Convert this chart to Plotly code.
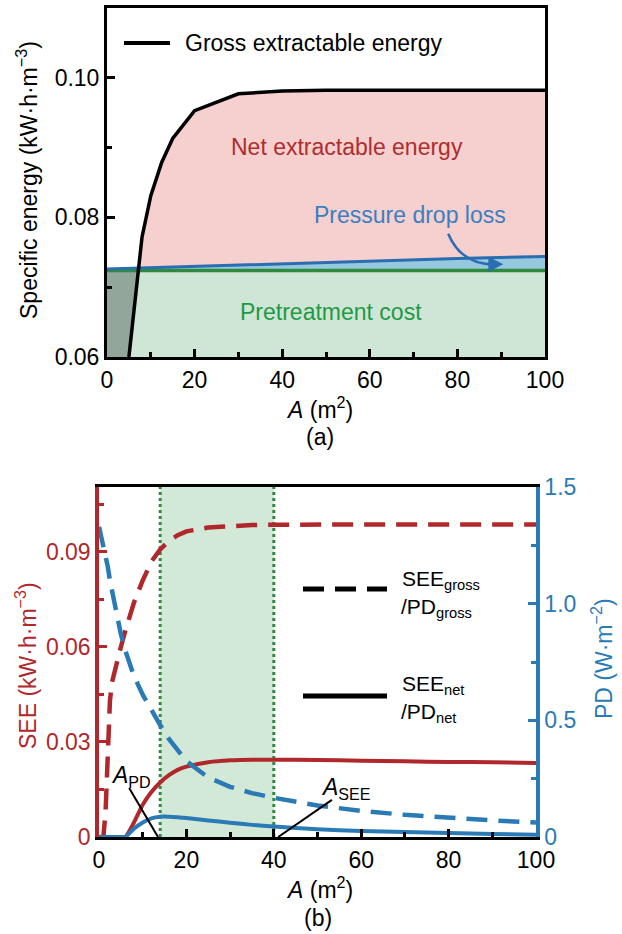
import numpy as np
import plotly.graph_objects as go

# ---------------- Panel (a) data ----------------
A_gross = [5, 6, 7, 8, 10, 12.5, 15, 20, 30, 40, 50, 60, 70, 80, 90, 100]
E_gross = [0.0600, 0.0660, 0.0718, 0.0772, 0.0831, 0.0879, 0.0913, 0.0953,
           0.0977, 0.0981, 0.0982, 0.0982, 0.0982, 0.0982, 0.0982, 0.0982]
A_pretreat = [0, 100]
E_pretreat = [0.0724, 0.0724]
A_pdl = [0, 20, 40, 60, 80, 100]
E_pdl = [0.0726, 0.0730, 0.0733, 0.0737, 0.0741, 0.0744]

a_yticks = [0.06, 0.08, 0.10]
a_yticktext = ["0.06", "0.08", "0.10"]
a_yminor = [0.07, 0.09]
x_ticks = [0, 20, 40, 60, 80, 100]
x_minor = [10, 30, 50, 70, 90]

# ---------------- Panel (b) data ----------------
A_b = [0, 1, 1.5, 2, 2.5, 3, 4, 5, 6, 8, 10, 12, 14, 16, 18, 20, 25, 30, 35, 40,
       50, 60, 70, 80, 90, 100]
SEE_gross = [0.0, 0.0, 0.008, 0.027, 0.043, 0.049, 0.055, 0.060, 0.065, 0.074,
             0.081, 0.087, 0.0908, 0.0935, 0.0953, 0.0965, 0.0977, 0.0982, 0.0985,
             0.0986, 0.0987, 0.0987, 0.0987, 0.0987, 0.0987, 0.0987]
PD_gross = [1.33, 1.25, 1.21, 1.16, 1.10, 1.05, 0.95, 0.87, 0.80, 0.69, 0.61, 0.54,
            0.48, 0.42, 0.37, 0.325, 0.255, 0.215, 0.188, 0.168, 0.135, 0.112,
            0.095, 0.082, 0.071, 0.062]
SEE_net = [0, 0, 0, 0, 0, 0, 0, 0, 0, 0.0046, 0.0102, 0.0142, 0.0172, 0.0195,
           0.0212, 0.0222, 0.0236, 0.0242, 0.0244, 0.0244, 0.0243, 0.0241, 0.0239,
           0.0237, 0.0236, 0.0234]
PD_net = [0, 0, 0, 0, 0, 0, 0, 0, 0, 0.035, 0.062, 0.080, 0.087, 0.087, 0.085,
          0.081, 0.071, 0.061, 0.052, 0.045, 0.033, 0.026, 0.021, 0.017, 0.013, 0.010]
A_window = [14, 40]   # A_PD and A_SEE

b_yticks = [0, 0.03, 0.06, 0.09]
b_yticktext = ["0", "0.03", "0.06", "0.09"]
b_yminor = [0.015, 0.045, 0.075, 0.105]
b_y2ticks = [0, 0.5, 1.0, 1.5]
b_y2ticktext = ["0", "0.5", "1.0", "1.5"]
b_y2minor = [0.25, 0.75, 1.25]

# ---------------- style ----------------
FONT = "Liberation Sans, Arial, sans-serif"
RED = "#b0282c"
BLUE = "#2a7ab5"
BLUE_A = "#2a6db0"
GREEN_LINE = "#2f8a3f"
GREEN_TXT = "#1e9a45"
GREEN_FILL = "rgb(207,229,214)"
PINK = "rgb(246,207,207)"
LBLUE = "rgb(150,200,222)"
DARK = "rgb(146,166,155)"
SHADE_B = "rgb(210,233,216)"
W, H = 622, 934
TXT = 23


def px(x):
    return x / W


def py(y):
    return 1 - y / H


fig = go.Figure()

# ----- panel (a) fills -----
pre_level = E_pretreat[0]
green_top = np.minimum(np.array(E_gross), pre_level)
pre_at_pdl = np.interp(A_pdl, A_pretreat, E_pretreat)
pdl_at_g = np.interp(A_gross, A_pdl, E_pdl)
pink_top = np.maximum(np.array(E_gross), pdl_at_g)

fig.add_trace(go.Scatter(x=A_pretreat, y=E_pretreat, mode="lines", line=dict(width=0),
                         fill="tozeroy", fillcolor=DARK, xaxis="x", yaxis="y"))
fig.add_trace(go.Scatter(x=A_gross, y=green_top, mode="lines", line=dict(width=0),
                         fill="tozeroy", fillcolor=GREEN_FILL, xaxis="x", yaxis="y"))
fig.add_trace(go.Scatter(x=A_pdl, y=pre_at_pdl, mode="lines", line=dict(width=0),
                         xaxis="x", yaxis="y"))
fig.add_trace(go.Scatter(x=A_pdl, y=E_pdl, mode="lines", line=dict(width=0),
                         fill="tonexty", fillcolor=LBLUE, xaxis="x", yaxis="y"))
fig.add_trace(go.Scatter(x=A_gross, y=pdl_at_g, mode="lines", line=dict(width=0),
                         xaxis="x", yaxis="y"))
fig.add_trace(go.Scatter(x=A_gross, y=pink_top, mode="lines", line=dict(width=0),
                         fill="tonexty", fillcolor=PINK, xaxis="x", yaxis="y"))
# ----- panel (a) lines -----
fig.add_trace(go.Scatter(x=A_pretreat, y=E_pretreat, mode="lines",
                         line=dict(color=GREEN_LINE, width=3.5), xaxis="x", yaxis="y"))
fig.add_trace(go.Scatter(x=A_pdl, y=E_pdl, mode="lines",
                         line=dict(color=BLUE_A, width=3), xaxis="x", yaxis="y"))
fig.add_trace(go.Scatter(x=A_gross, y=E_gross, mode="lines",
                         line=dict(color="black", width=3.5), xaxis="x", yaxis="y"))

# ----- panel (b) curves -----
DASH = "21px,11px"
fig.add_trace(go.Scatter(x=A_b, y=SEE_gross, mode="lines",
                         line=dict(color=RED, width=4.5, dash=DASH), xaxis="x2", yaxis="y2"))
fig.add_trace(go.Scatter(x=A_b, y=SEE_net, mode="lines",
                         line=dict(color=RED, width=4, shape="spline", smoothing=0.6),
                         xaxis="x2", yaxis="y2"))
fig.add_trace(go.Scatter(x=A_b, y=PD_gross, mode="lines",
                         line=dict(color=BLUE, width=4.5, dash=DASH), xaxis="x2", yaxis="y3"))
fig.add_trace(go.Scatter(x=A_b, y=PD_net, mode="lines",
                         line=dict(color=BLUE, width=4, shape="spline", smoothing=0.6),
                         xaxis="x2", yaxis="y3"))

# ----- axes -----
tickfont = dict(family=FONT, size=TXT, color="black")
common_x = dict(range=[0, 100], showline=True, linecolor="black", linewidth=3,
                mirror=True, ticks="inside", ticklen=8, tickwidth=3, tickcolor="black",
                tickvals=x_ticks, ticktext=[str(v) for v in x_ticks],
                minor=dict(tickmode="array", tickvals=x_minor, ticks="inside",
                           ticklen=5, tickwidth=3, tickcolor="black"),
                tickfont=tickfont, showgrid=False, zeroline=False, automargin=False)

fig.update_layout(
    template="none",
    width=W, height=H, autosize=False,
    margin=dict(l=0, r=0, t=0, b=0, pad=0),
    paper_bgcolor="white", plot_bgcolor="white",
    showlegend=False,
    font=dict(family=FONT, size=TXT, color="black"),
    xaxis=dict(domain=[px(107), px(545)], anchor="y", **common_x),
    yaxis=dict(domain=[py(357), py(8)], anchor="x", range=[0.06, 0.11],
               showline=True, linecolor="black", linewidth=3, mirror=True,
               ticks="inside", ticklen=8, tickwidth=3, tickcolor="black",
               tickvals=a_yticks, ticktext=a_yticktext,
               minor=dict(tickmode="array", tickvals=a_yminor, ticks="inside",
                          ticklen=5, tickwidth=3, tickcolor="black"),
               tickfont=tickfont, showgrid=False, zeroline=False, automargin=False),
    xaxis2=dict(domain=[px(99), px(536)], anchor="y2", **common_x),
    yaxis2=dict(domain=[py(837), py(487)], anchor="x2", range=[0, 0.1105],
                showline=True, linecolor=RED, linewidth=3.5, mirror=False,
                ticks="inside", ticklen=8, tickwidth=3, tickcolor=RED,
                tickvals=b_yticks, ticktext=b_yticktext,
                minor=dict(tickmode="array", tickvals=b_yminor, ticks="inside",
                           ticklen=5, tickwidth=3, tickcolor=RED),
                tickfont=dict(family=FONT, size=TXT, color=RED),
                showgrid=False, zeroline=False, automargin=False),
    yaxis3=dict(overlaying="y2", side="right", anchor="x2", range=[0, 1.5],
                showline=True, linecolor=BLUE, linewidth=3.5,
                ticks="inside", ticklen=8, tickwidth=3, tickcolor=BLUE,
                tickvals=b_y2ticks, ticktext=b_y2ticktext,
                minor=dict(tickmode="array", tickvals=b_y2minor, ticks="inside",
                           ticklen=5, tickwidth=3, tickcolor=BLUE),
                tickfont=dict(family=FONT, size=TXT, color=BLUE),
                showgrid=False, zeroline=False, automargin=False),
)

shapes = []
# panel (a) legend sample
shapes.append(dict(type="line", xref="paper", yref="paper", x0=px(124), x1=px(170),
                   y0=py(43), y1=py(43), line=dict(color="black", width=4)))
# panel (a) curved arrow
shapes.append(dict(type="path", xref="x", yref="y",
                   path="M 77.9,0.07767 Q 81.0,0.07307 89.0,0.07329",
                   line=dict(color=BLUE_A, width=2.5)))
# panel (b) window shading and dotted bounds
shapes.append(dict(type="rect", xref="x2", yref="y2 domain", x0=A_window[0], x1=A_window[1],
                   y0=0, y1=1, fillcolor=SHADE_B, line=dict(width=0), layer="below"))
for a in A_window:
    shapes.append(dict(type="line", xref="x2", yref="y2 domain", x0=a, x1=a, y0=0, y1=1,
                       line=dict(color=GREEN_LINE, width=3, dash="dot"), layer="below"))
# pointer lines for A_PD, A_SEE
shapes.append(dict(type="line", xref="x2", yref="y2", x0=6.9, y0=0.0155, x1=13.5, y1=0,
                   line=dict(color="black", width=2)))
shapes.append(dict(type="line", xref="x2", yref="y2", x0=53.3, y0=0.0117, x1=41, y1=0,
                   line=dict(color="black", width=2)))
# panel (b) legend samples
shapes.append(dict(type="line", xref="paper", yref="paper", x0=px(303), x1=px(387),
                   y0=py(589), y1=py(589), line=dict(color="black", width=5, dash=DASH)))
shapes.append(dict(type="line", xref="paper", yref="paper", x0=px(303), x1=px(387),
                   y0=py(696), y1=py(696), line=dict(color="black", width=5)))
fig.update_layout(shapes=shapes)

ann = []


def label(text, x, y, size=TXT, color="black", xanchor="center", angle=0, yanchor="middle"):
    ann.append(dict(text=text, x=px(x), y=py(y), xref="paper", yref="paper",
                    showarrow=False, xanchor=xanchor, yanchor=yanchor, textangle=angle,
                    font=dict(family=FONT, size=size, color=color)))


label("Gross extractable energy", 183, 43, xanchor="left")
label("Net extractable energy", 347, 147, color="#ad2e2e")
label("Pressure drop loss", 410, 215, color="#3a7fc0")
label("Pretreatment cost", 331, 312, color=GREEN_TXT)
label("Specific energy (kW·h·m<sup>−3</sup>)", 27, 180, angle=-90)
label("<i>A</i> (m<sup>2</sup>)", 319, 408)
label("(a)", 320, 437)

label("SEE (kW·h·m<sup>−3</sup>)", 26, 666, color=RED, angle=-90)
label("PD (W·m<sup>−2</sup>)", 602, 659, color=BLUE, angle=-90)
label("<i>A</i> (m<sup>2</sup>)", 319, 888)
label("(b)", 318, 918)
label("<i>A</i><sub>PD</sub>", 131, 776)
label("<i>A</i><sub>SEE</sub>", 346, 788)
label("SEE<sub>gross</sub>", 400, 580, size=21, xanchor="left")
label("/PD<sub>gross</sub>", 399, 608, size=21, xanchor="left")
label("SEE<sub>net</sub>", 400, 685, size=21, xanchor="left")
label("/PD<sub>net</sub>", 399, 713, size=21, xanchor="left")

# arrowhead for the pressure-drop pointer
ann.append(dict(x=90.5, y=0.07329, ax=86.5, ay=0.07329, xref="x", yref="y",
                axref="x", ayref="y", text="", showarrow=True, arrowhead=2,
                arrowsize=1.2, arrowwidth=2.5, arrowcolor=BLUE_A))
fig.update_layout(annotations=ann)

fig.write_html("out.html")
